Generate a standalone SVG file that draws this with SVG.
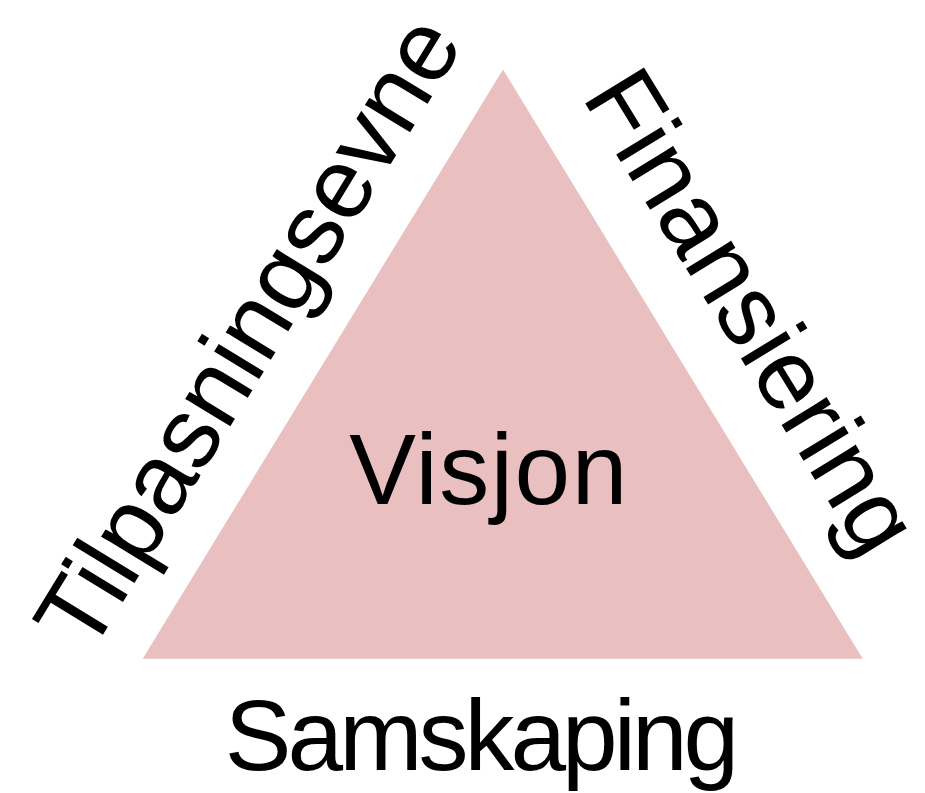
<svg xmlns="http://www.w3.org/2000/svg" width="925" height="793" viewBox="0 0 925 793">
  <style>
    .lbl { font-family: "Liberation Sans", Arial, Helvetica, sans-serif; font-size: 100px; fill: #000; }
  </style>
  <rect width="925" height="793" fill="#ffffff"/>
  <!-- central triangle -->
  <g id="triangle">
    <polygon points="503,69.5 142.7,658.7 862.7,658.7" fill="#eabfbf"/>
    <text class="lbl" x="489" y="504" text-anchor="middle" letter-spacing="1.5">Visjon</text>
  </g>
  <!-- side labels -->
  <g id="left-side">
    <text class="lbl" transform="translate(277,350) rotate(-58.57)" x="0" y="0" text-anchor="middle">Tilpasningsevne</text>
  </g>
  <g id="right-side">
    <text class="lbl" transform="translate(723,329) rotate(58.57)" x="0" y="0" text-anchor="middle">Finansiering</text>
  </g>
  <g id="bottom-side">
    <text class="lbl" x="480" y="770" text-anchor="middle" letter-spacing="-4">Samskaping</text>
  </g>
</svg>
